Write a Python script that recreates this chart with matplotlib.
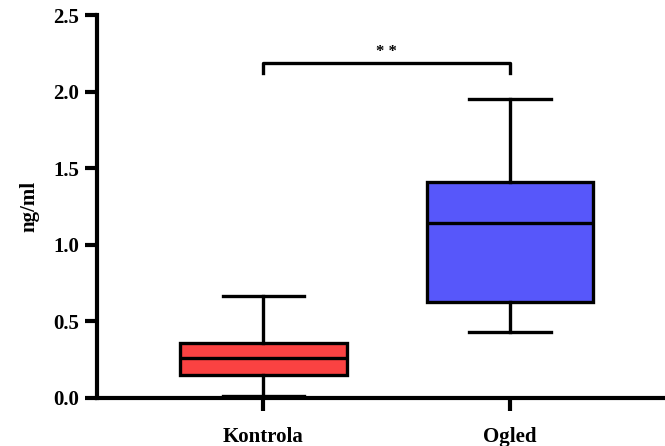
import matplotlib
matplotlib.use("Agg")
import matplotlib.pyplot as plt

# Podatki (odčitano s slike)
groups = ["Kontrola", "Ogled"]
whisker_low = [0.01, 0.43]
q1 = [0.15, 0.627]
median = [0.26, 1.14]
q3 = [0.36, 1.41]
whisker_high = [0.666, 1.95]
colors = ["#FA4242", "#5757FA"]
sig_label = "* *"
sig_y = 2.19

plt.rcParams["font.family"] = ["Liberation Serif", "DejaVu Serif"]
plt.rcParams["font.weight"] = "bold"

fig = plt.figure(figsize=(6.65, 4.46), dpi=100)
ax = fig.add_axes([0.146, 0.108, 0.856, 0.858])

stats = []
for i, g in enumerate(groups):
    stats.append({"label": g, "whislo": whisker_low[i], "q1": q1[i], "med": median[i],
                  "q3": q3[i], "whishi": whisker_high[i], "fliers": []})

lw = 2.4
positions = list(range(1, len(groups) + 1))
bp = ax.bxp(stats, positions=positions, widths=0.675, patch_artist=True, showfliers=False,
            boxprops=dict(linewidth=lw, edgecolor="black"),
            medianprops=dict(linewidth=lw, color="black"),
            whiskerprops=dict(linewidth=lw, color="black"),
            capprops=dict(linewidth=lw, color="black"),
            capwidths=0.33)
for patch, c in zip(bp["boxes"], colors):
    patch.set_facecolor(c)

# oznaka značilnosti
ax.plot([1, 1, 2, 2], [sig_y - 0.07, sig_y, sig_y, sig_y - 0.07], color="black", lw=lw,
        clip_on=False)
ax.text(1.5, sig_y + 0.02, sig_label, ha="center", va="bottom", fontsize=12, fontweight="bold")

ax.set_xlim(0.325, 2.634)
ax.set_ylim(0, 2.5)
yt = [0.0, 0.5, 1.0, 1.5, 2.0, 2.5]
ax.set_yticks(yt)
ax.set_yticklabels([f"{v:.1f}" for v in yt])
ax.set_xticks(positions)
ax.set_xticklabels(groups)
ax.set_ylabel("ng/ml", fontsize=15, fontweight="bold", labelpad=10)

for s in ["top", "right"]:
    ax.spines[s].set_visible(False)
for s in ["left", "bottom"]:
    ax.spines[s].set_linewidth(3)
ax.tick_params(axis="both", width=3, length=9, labelsize=15)
ax.tick_params(axis="y", pad=4)
ax.tick_params(axis="x", pad=12)
for lab in ax.get_xticklabels() + ax.get_yticklabels():
    lab.set_fontweight("bold")

fig.savefig("out.png", dpi=100)
